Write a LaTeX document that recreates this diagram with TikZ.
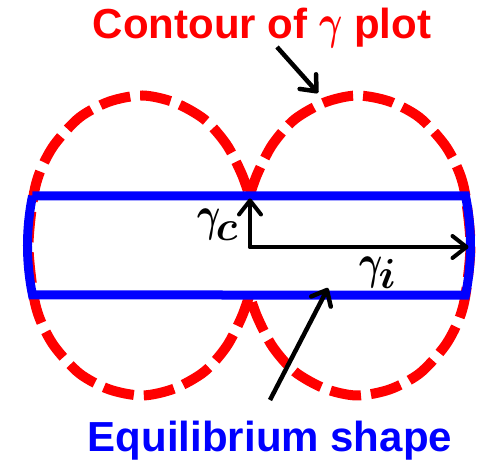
\RequirePackage{fix-cm}
\documentclass[tikz,border=0pt]{standalone}
\usepackage{fontspec}
\usepackage{bm}
\setmainfont{Liberation Sans}
\usetikzlibrary{arrows.meta}
\definecolor{pred}{RGB}{255,0,0}
\definecolor{pblue}{RGB}{0,0,255}
\newcommand{\bgam}{\scalebox{0.85}[1.15]{$\bm{\gamma}$}}
\tikzset{
 gplot/.style={draw=pred, line width=10pt, dash pattern=on 31pt off 10pt, line join=round},
 eqshape/.style={draw=pblue, line width=9pt, line join=miter},
 dimarrow/.style={line width=4pt, line cap=round, -{Straight Barb[length=14pt,width=22pt,round]}},
 ptrarrow/.style={line width=4.5pt, -{Straight Barb[length=13pt,width=22pt,round]}},
 titletext/.style={font=\fontsize{42}{42}\selectfont\bfseries, inner sep=0pt, anchor=base},
 glabel/.style={font=\fontsize{42}{42}\selectfont, inner sep=0pt}
}
\begin{document}
\begin{tikzpicture}[x=1pt,y=1pt]
\useasboundingbox (-249.5,-216.5) rectangle (233.5,245.5);
% gamma plot contour
\draw[gplot] plot[smooth] coordinates {(0,49.5) (8,72) (23,101) (45,126) (75,143) (107,150) (140,144) (170,128) (195,101) (209,75) (216,49.5) (221,0) (216,-49.5) (209,-75) (195,-101) (170,-128) (140,-144) (107,-150) (75,-143) (45,-126) (23,-101) (8,-72) (0,-49.5)}
 -- plot[smooth] coordinates {(0,-49.5) (-8,-72) (-23,-101) (-45,-126) (-75,-143) (-107,-150) (-140,-144) (-170,-128) (-195,-101) (-209,-75) (-216,-49.5) (-221,0) (-216,49.5) (-209,75) (-195,101) (-170,128) (-140,144) (-107,150) (-75,143) (-45,126) (-23,101) (-8,72) (0,49.5)};
% equilibrium shape
\draw[eqshape] (-217,49.5) -- (216,49.5) arc[start angle=11.54, end angle=-11.54, radius=247.5]
 -- (-217,-49.5) arc[start angle=191.54, end angle=168.46, radius=247.5] -- cycle;
% dimension arrows
\coordinate (o) at (0.5,-1.5);
\coordinate (ctop) at (0.5,47);
\coordinate (iend) at (219,-1.5);
\draw[dimarrow] (o) -- (ctop);
\draw[dimarrow] (o) -- (iend);
\node[glabel] (gc) at (-32,20.5) {\bgam\kern-5pt\raisebox{-10pt}{$\bm{c}$}};
\node[glabel] (gi) at (128,-27.5) {\bgam\kern-4pt\raisebox{-10pt}{$\bm{i}$}};
% titles
\node[titletext, text=pred] (t) at (12.5,207) {Contour of \bgam{} plot};
\node[titletext, text=pblue] (e) at (20.5,-206.2) {Equilibrium shape};
\coordinate (p1s) at (27.5,198.5);
\coordinate (p1e) at (68.5,152.5);
\coordinate (p2s) at (20.5,-154.5);
\coordinate (p2e) at (78.5,-42.5);
\draw[ptrarrow] (p1s) -- (p1e);
\draw[ptrarrow] (p2s) -- (p2e);
\end{tikzpicture}
\end{document}
